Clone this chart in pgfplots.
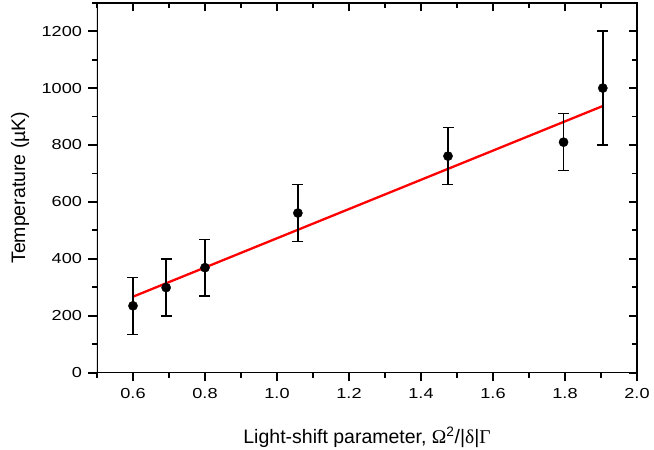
\documentclass[border=0pt]{standalone}
\usepackage{pgfplots}
\pgfplotsset{compat=1.18}
\usepackage{fontspec}
\setmainfont{Liberation Sans}
\newfontfamily\greek{Liberation Serif}
\newfontfamily\tickfont[FakeStretch=1.25]{Liberation Sans}
\pgfplotsset{
  common/.style={
    scale only axis, width=540pt, height=370pt,
    xmin=0.5, xmax=2.0, ymin=0, ymax=1300,
    xtick={0.6,0.8,1.0,1.2,1.4,1.6,1.8,2.0},
    minor xtick={0.5,0.7,0.9,1.1,1.3,1.5,1.7,1.9},
    ytick={0,200,400,600,800,1000,1200},
    minor ytick={100,300,500,700,900,1100,1300},
    major tick length=8.5pt, minor tick length=5pt,
    tick style={line width=1.8pt, black},
    major tick style={line width=1.8pt, black},
    minor tick style={line width=1.8pt, black},
  }
}
\begin{document}
\begin{tikzpicture}
\begin{axis}[common,
  tick align=outside, xtick pos=left, ytick pos=left,
  /pgf/number format/assume math mode=true,
  tick label style={font=\tickfont\fontsize{14.5}{15}\selectfont},
  xticklabel style={yshift=-4pt, /pgf/number format/.cd, fixed, fixed zerofill, precision=1},
  yticklabel style={xshift=-3pt, /pgf/number format/.cd, 1000 sep={}},
  label style={font=\fontsize{19.5}{20}\selectfont},
  xlabel={Light-shift parameter, {\greek Ω}\textsuperscript{2}/|{\greek δ}|{\greek Γ}},
  ylabel={Temperature (µK)},
  xlabel style={at={(axis description cs:0.5,-0.192)}, anchor=base},
  ylabel style={at={(axis description cs:-0.133,0.5)}, anchor=base},
]
\coordinate (O) at (rel axis cs:0,0);
\addplot[red, line width=2.3pt] coordinates {(0.6,267) (1.905,937)};
\addplot[black, only marks, mark=*, mark size=4.6pt,
  error bars/.cd, y dir=both, y explicit,
  error bar style={line width=1.4pt},
  error mark options={rotate=90, line width=1.4pt, mark size=5.5pt}]
  table[x=x, y=y, y error=e] {
x y e
0.600 235 100
0.692 299 100
0.800 369 100
1.058 561 100
1.475 761 100
1.796 810 100
1.905 1000 200
};
\end{axis}
\begin{axis}[common,
  tick align=inside, xtick pos=right, ytick pos=right,
  xticklabels={}, yticklabels={},
]
\draw[line width=2pt, black] (rel axis cs:0,0) rectangle (rel axis cs:1,1);
\end{axis}
\pgfresetboundingbox
\path[use as bounding box] (O) ++(-97pt,-77.3pt) rectangle ++(654pt,450pt);
\end{tikzpicture}
\end{document}
